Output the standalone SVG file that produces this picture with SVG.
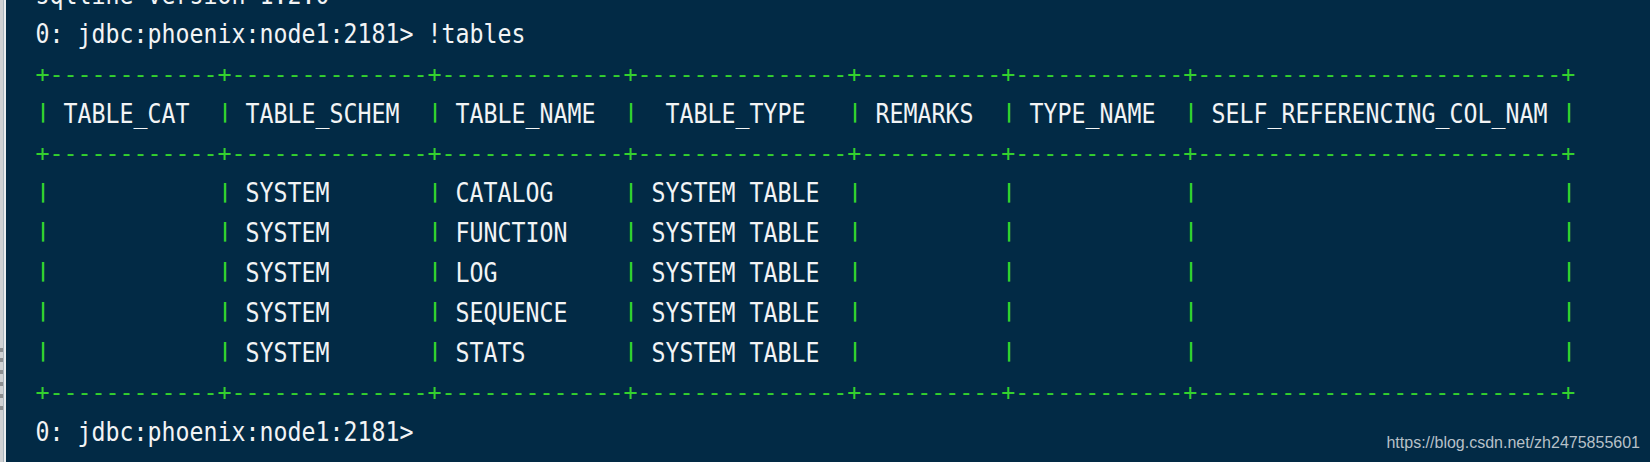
<svg xmlns="http://www.w3.org/2000/svg" width="1650" height="462" viewBox="0 0 1650 462">
<style>
.t{font-family:"DejaVu Sans Mono","Liberation Mono",monospace;font-size:23.26px;fill:#f2f4f5}
.g{font-family:"DejaVu Sans Mono","Liberation Mono",monospace;font-size:23.26px;fill:#34d12e}
.p{font-family:"DejaVu Sans Mono","Liberation Mono",monospace;font-size:20px;font-weight:bold;fill:#34d12e}
.w{font-family:"Liberation Sans",Arial,sans-serif;font-size:16px;fill:#b7c0c8}
</style>
<rect x="0" y="0" width="1650" height="462" fill="#022a45"/>
<g id="edge">
<rect x="0" y="0" width="3.5" height="462" fill="#cfd1d3"/>
<rect x="3.5" y="0" width="2.5" height="462" fill="#eceeef"/>
<rect x="0" y="348" width="3" height="4" fill="#8d8f91"/>
<rect x="0" y="358" width="3" height="4" fill="#8d8f91"/>
<rect x="0" y="370" width="3" height="4" fill="#8d8f91"/>
<rect x="0" y="382" width="3" height="4" fill="#8d8f91"/>
<rect x="0" y="394" width="3" height="4" fill="#8d8f91"/>
<rect x="0" y="406" width="3" height="4" fill="#8d8f91"/>
</g>
<g id="borders">
<text class="g" x="35.5" y="81.6">+------------+--------------+-------------+---------------+----------+------------+--------------------------+</text>
<text class="g" x="35.5" y="161.3">+------------+--------------+-------------+---------------+----------+------------+--------------------------+</text>
<text class="g" x="35.5" y="400.4">+------------+--------------+-------------+---------------+----------+------------+--------------------------+</text>
</g>
<g id="pipes">
<text class="p" x="37" y="117.9">|</text><text class="p" x="219" y="117.9">|</text><text class="p" x="429" y="117.9">|</text><text class="p" x="625" y="117.9">|</text><text class="p" x="849" y="117.9">|</text><text class="p" x="1003" y="117.9">|</text><text class="p" x="1185" y="117.9">|</text><text class="p" x="1563" y="117.9">|</text>
<text class="p" x="37" y="197.6">|</text><text class="p" x="219" y="197.6">|</text><text class="p" x="429" y="197.6">|</text><text class="p" x="625" y="197.6">|</text><text class="p" x="849" y="197.6">|</text><text class="p" x="1003" y="197.6">|</text><text class="p" x="1185" y="197.6">|</text><text class="p" x="1563" y="197.6">|</text>
<text class="p" x="37" y="237.4">|</text><text class="p" x="219" y="237.4">|</text><text class="p" x="429" y="237.4">|</text><text class="p" x="625" y="237.4">|</text><text class="p" x="849" y="237.4">|</text><text class="p" x="1003" y="237.4">|</text><text class="p" x="1185" y="237.4">|</text><text class="p" x="1563" y="237.4">|</text>
<text class="p" x="37" y="277.3">|</text><text class="p" x="219" y="277.3">|</text><text class="p" x="429" y="277.3">|</text><text class="p" x="625" y="277.3">|</text><text class="p" x="849" y="277.3">|</text><text class="p" x="1003" y="277.3">|</text><text class="p" x="1185" y="277.3">|</text><text class="p" x="1563" y="277.3">|</text>
<text class="p" x="37" y="317.1">|</text><text class="p" x="219" y="317.1">|</text><text class="p" x="429" y="317.1">|</text><text class="p" x="625" y="317.1">|</text><text class="p" x="849" y="317.1">|</text><text class="p" x="1003" y="317.1">|</text><text class="p" x="1185" y="317.1">|</text><text class="p" x="1563" y="317.1">|</text>
<text class="p" x="37" y="357">|</text><text class="p" x="219" y="357">|</text><text class="p" x="429" y="357">|</text><text class="p" x="625" y="357">|</text><text class="p" x="849" y="357">|</text><text class="p" x="1003" y="357">|</text><text class="p" x="1185" y="357">|</text><text class="p" x="1563" y="357">|</text>
</g>
<g transform="scale(1,1.1608)">
<g id="console">
<text class="t" x="35.5" y="3.45">sqlline version 1.2.0</text>
<text class="t" x="35.5" y="37.47">0: jdbc:phoenix:node1:2181&gt; !tables</text>
<text class="t" x="35.5" y="380.34">0: jdbc:phoenix:node1:2181&gt;</text>
</g>
<g id="header">
<text class="t" x="63.5" y="105.62">TABLE_CAT</text>
<text class="t" x="245.5" y="105.62">TABLE_SCHEM</text>
<text class="t" x="455.5" y="105.62">TABLE_NAME</text>
<text class="t" x="665.5" y="105.62">TABLE_TYPE</text>
<text class="t" x="875.5" y="105.62">REMARKS</text>
<text class="t" x="1029.5" y="105.62">TYPE_NAME</text>
<text class="t" x="1211.5" y="105.62">SELF_REFERENCING_COL_NAM</text>
</g>
<g id="row1">
<text class="t" x="245.5" y="174.28">SYSTEM</text>
<text class="t" x="455.5" y="174.28">CATALOG</text>
<text class="t" x="651.5" y="174.28">SYSTEM TABLE</text>
</g>
<g id="row2">
<text class="t" x="245.5" y="208.56">SYSTEM</text>
<text class="t" x="455.5" y="208.56">FUNCTION</text>
<text class="t" x="651.5" y="208.56">SYSTEM TABLE</text>
</g>
<g id="row3">
<text class="t" x="245.5" y="242.94">SYSTEM</text>
<text class="t" x="455.5" y="242.94">LOG</text>
<text class="t" x="651.5" y="242.94">SYSTEM TABLE</text>
</g>
<g id="row4">
<text class="t" x="245.5" y="277.22">SYSTEM</text>
<text class="t" x="455.5" y="277.22">SEQUENCE</text>
<text class="t" x="651.5" y="277.22">SYSTEM TABLE</text>
</g>
<g id="row5">
<text class="t" x="245.5" y="311.59">SYSTEM</text>
<text class="t" x="455.5" y="311.59">STATS</text>
<text class="t" x="651.5" y="311.59">SYSTEM TABLE</text>
</g>
</g>
<g id="watermark">
<text class="w" x="1640" y="448" text-anchor="end">https://blog.csdn.net/zh2475855601</text>
</g>
</svg>
